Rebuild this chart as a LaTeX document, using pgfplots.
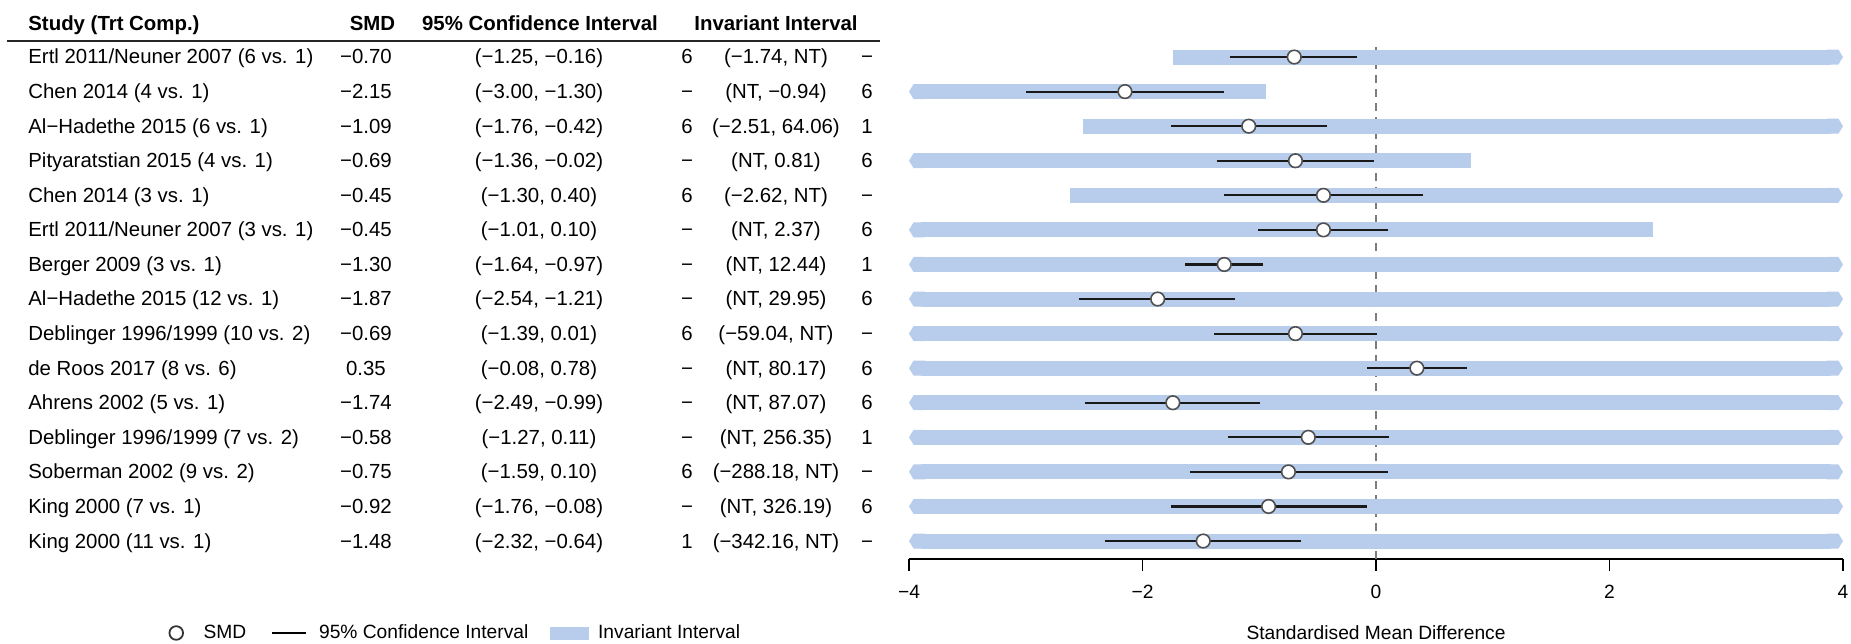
\documentclass[border=0pt]{standalone}
\usepackage{fontspec}
\setmainfont{Liberation Sans}
\usepackage{pgfplots}
\pgfplotsset{compat=1.18}
\usepackage{pgfplotstable}
\usetikzlibrary{arrows.meta}
\definecolor{invblue}{RGB}{184,205,236}
\definecolor{mkgray}{RGB}{80,80,80}
\definecolor{zgray}{RGB}{125,125,125}

% y = 16 - row number
\pgfplotstableread{
y smd lo hi
15 -0.70 -1.25 -0.16
14 -2.15 -3.00 -1.30
13 -1.09 -1.76 -0.42
12 -0.69 -1.36 -0.02
11 -0.45 -1.30 0.40
10 -0.45 -1.01 0.10
9 -1.30 -1.64 -0.97
8 -1.87 -2.54 -1.21
7 -0.69 -1.39 0.01
6 0.35 -0.08 0.78
5 -1.74 -2.49 -0.99
4 -0.58 -1.27 0.11
3 -0.75 -1.59 0.10
2 -0.92 -1.76 -0.08
1 -1.48 -2.32 -0.64
}\cidata

\pgfplotsset{
  invbar/.style={invblue, line width=7.5pt, mark=none, forget plot},
  capR/.style={-{Triangle Cap[length=2.3pt]}},
  capL/.style={{Triangle Cap[length=2.3pt]}-},
  capB/.style={{Triangle Cap[length=2.3pt]}-{Triangle Cap[length=2.3pt]}},
}

\newcommand{\smallfont}{\fontsize{9.6}{11.5}\selectfont}

\newcommand{\trow}[7]{%
  \node[anchor=base west,inner sep=0pt] at (28,#1+7) {#2};
  \node[anchor=base,inner sep=0pt] at (366,#1+7) {#3};
  \node[anchor=base,inner sep=0pt] at (539,#1+7) {#4};
  \node[anchor=base,inner sep=0pt] at (687,#1+7) {#5};
  \node[anchor=base,inner sep=0pt] at (776,#1+7) {#6};
  \node[anchor=base,inner sep=0pt] at (867,#1+7) {#7};
}

\begin{document}
\fontsize{10.2}{12}\selectfont
\begin{tikzpicture}
\begin{axis}[
  scale only axis,
  x=58.375pt, y=17.2855pt,
  xmin=-4, xmax=4, ymin=0.48, ymax=15.37,
  clip=false,
  axis x line=bottom,
  axis y line=none,
  x axis line style={-},
  axis line style={black, line width=0.85pt},
  ytick=\empty,
  xtick={-4,-2,0,2,4},
  xticklabels={−4,−2,0,2,4},
  tick align=outside,
  major tick length=5.8pt,
  tick style={black, line width=0.85pt},
  minor tick num=0,
  xticklabel style={yshift=-3.5pt, inner xsep=0pt, font=\smallfont},
  xlabel={Standardised Mean Difference},
  xlabel style={at={(axis description cs:0.5,-0.1573)}, anchor=base, inner sep=0pt, font=\smallfont},
  legend columns=-1,
  legend style={draw=none, fill=none, inner sep=0pt, outer sep=0pt,
    at={(axis description cs:-0.7918,-0.1437)}, anchor=west,
    font=\smallfont,
    nodes={inner sep=0pt},
    /tikz/column 1/.style={column sep=10.25pt},
    /tikz/column 2/.style={column sep=12.5pt},
    /tikz/column 3/.style={column sep=6pt},
    /tikz/column 4/.style={column sep=11pt},
    /tikz/column 5/.style={column sep=4.5pt}},
]
% zero line
\addplot[zgray, dash pattern=on 4pt off 3pt, line width=0.9pt, forget plot] coordinates {(0,0.48) (0,15.37)};

% invariant intervals (clipped to the plotting range; arrows mark NT / off-scale ends)
\addplot[invbar, capR] coordinates {(-1.74,15) (4,15)};
\addplot[invbar, capL] coordinates {(-4,14) (-0.94,14)};
\addplot[invbar, capR] coordinates {(-2.51,13) (4,13)};
\addplot[invbar, capL] coordinates {(-4,12) (0.81,12)};
\addplot[invbar, capR] coordinates {(-2.62,11) (4,11)};
\addplot[invbar, capL] coordinates {(-4,10) (2.37,10)};
\addplot[invbar, capB] coordinates {(-4,9) (4,9)};
\addplot[invbar, capB] coordinates {(-4,8) (4,8)};
\addplot[invbar, capB] coordinates {(-4,7) (4,7)};
\addplot[invbar, capB] coordinates {(-4,6) (4,6)};
\addplot[invbar, capB] coordinates {(-4,5) (4,5)};
\addplot[invbar, capB] coordinates {(-4,4) (4,4)};
\addplot[invbar, capB] coordinates {(-4,3) (4,3)};
\addplot[invbar, capB] coordinates {(-4,2) (4,2)};
\addplot[invbar, capB] coordinates {(-4,1) (4,1)};

% confidence intervals
\addplot[forget plot, draw=none, mark=none,
  error bars/.cd, x dir=both, x explicit, error mark=none,
  error bar style={draw=black!90, line width=1.05pt, solid}]
  table[x=smd, y=y,
    x error plus expr=\thisrow{hi}-\thisrow{smd},
    x error minus expr=\thisrow{smd}-\thisrow{lo}] {\cidata};

% SMD points
\addplot[forget plot, only marks, mark=*, mark size=3.4pt,
  mark options={fill=white, draw=mkgray, line width=0.8pt}]
  table[x=smd, y=y] {\cidata};

% legend
\addlegendimage{only marks, mark=*, mark size=3.4pt, mark options={fill=white, draw=black!80, line width=0.9pt}}
\addlegendentry{SMD}
\addlegendimage{black, line width=0.9pt, mark=none}
\addlegendentry{95\% Confidence Interval}
\addlegendimage{legend image code/.code={\fill[invblue] (0pt,-3pt) rectangle (19pt,3pt);}}
\addlegendentry{Invariant Interval}
\end{axis}

\begin{scope}[x=0.5pt,y=-0.5pt,shift={(-909,-559)}]
\draw[line width=1pt, black!85] (7,40.7) -- (880,40.7);
\node[anchor=base west,inner sep=0pt,font=\bfseries] at (28,31) {Study (Trt Comp.)};
\node[anchor=base,inner sep=0pt,font=\bfseries] at (372.5,31) {SMD};
\node[anchor=base,inner sep=0pt,font=\bfseries] at (540,31) {95\% Confidence Interval};
\node[anchor=base,inner sep=0pt,font=\bfseries] at (776,31) {Invariant Interval};
\trow{57.00}{Ertl 2011/Neuner 2007 (6 vs. 1)}{−0.70}{(−1.25, −0.16)}{6}{(−1.74, NT)}{−}
\trow{91.57}{Chen 2014 (4 vs. 1)}{−2.15}{(−3.00, −1.30)}{−}{(NT, −0.94)}{6}
\trow{126.14}{Al−Hadethe 2015 (6 vs. 1)}{−1.09}{(−1.76, −0.42)}{6}{(−2.51, 64.06)}{1}
\trow{160.71}{Pityaratstian 2015 (4 vs. 1)}{−0.69}{(−1.36, −0.02)}{−}{(NT, 0.81)}{6}
\trow{195.28}{Chen 2014 (3 vs. 1)}{−0.45}{(−1.30, 0.40)}{6}{(−2.62, NT)}{−}
\trow{229.86}{Ertl 2011/Neuner 2007 (3 vs. 1)}{−0.45}{(−1.01, 0.10)}{−}{(NT, 2.37)}{6}
\trow{264.43}{Berger 2009 (3 vs. 1)}{−1.30}{(−1.64, −0.97)}{−}{(NT, 12.44)}{1}
\trow{299.00}{Al−Hadethe 2015 (12 vs. 1)}{−1.87}{(−2.54, −1.21)}{−}{(NT, 29.95)}{6}
\trow{333.57}{Deblinger 1996/1999 (10 vs. 2)}{−0.69}{(−1.39, 0.01)}{6}{(−59.04, NT)}{−}
\trow{368.14}{de Roos 2017 (8 vs. 6)}{0.35}{(−0.08, 0.78)}{−}{(NT, 80.17)}{6}
\trow{402.71}{Ahrens 2002 (5 vs. 1)}{−1.74}{(−2.49, −0.99)}{−}{(NT, 87.07)}{6}
\trow{437.28}{Deblinger 1996/1999 (7 vs. 2)}{−0.58}{(−1.27, 0.11)}{−}{(NT, 256.35)}{1}
\trow{471.85}{Soberman 2002 (9 vs. 2)}{−0.75}{(−1.59, 0.10)}{6}{(−288.18, NT)}{−}
\trow{506.43}{King 2000 (7 vs. 1)}{−0.92}{(−1.76, −0.08)}{−}{(NT, 326.19)}{6}
\trow{541.00}{King 2000 (11 vs. 1)}{−1.48}{(−2.32, −0.64)}{1}{(−342.16, NT)}{−}
\pgfresetboundingbox
\path[use as bounding box] (0,0) rectangle (1851,643);
\end{scope}
\end{tikzpicture}
\end{document}
